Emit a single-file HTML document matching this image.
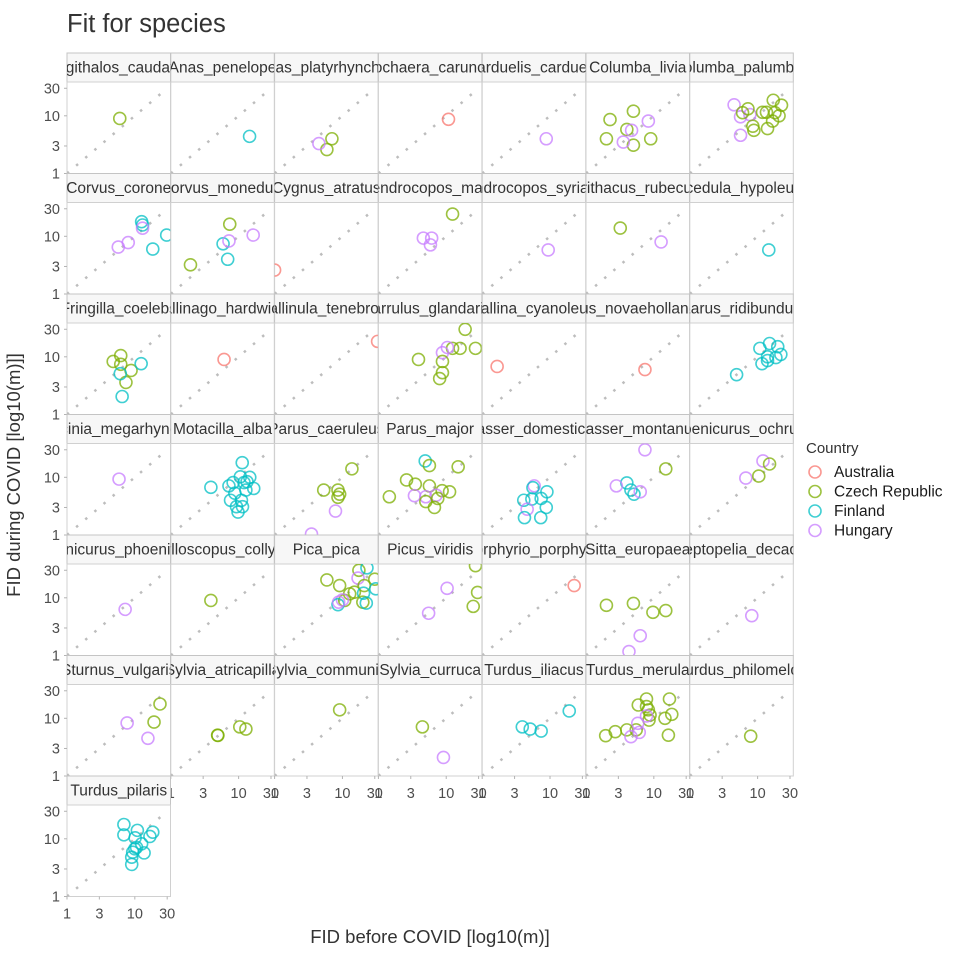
<!DOCTYPE html>
<html><head><meta charset="utf-8"><style>
html,body{margin:0;padding:0;background:#fff;}
svg text{font-family:"Liberation Sans",Arial,sans-serif;}
</style></head><body>
<svg id="chart" width="960" height="960" viewBox="0 0 960 960" xmlns="http://www.w3.org/2000/svg">
<rect width="960" height="960" fill="#fff"/>
<text x="67" y="32" font-size="25.5" fill="#333">Fit for species</text>
<text x="430" y="943" font-size="18.5" fill="#333" text-anchor="middle">FID before COVID [log10(m)]</text>
<text transform="translate(20,475) rotate(-90)" font-size="18.5" fill="#333" text-anchor="middle">FID during COVID [log10(m)]]</text>
<g id="panels"></g>
<g id="legend"></g>
</svg>
<script>
const species = ["Aegithalos_caudatus","Anas_penelope","Anas_platyrhynchos","Anthochaera_carunculata","Carduelis_carduelis","Columba_livia","Columba_palumbus",
"Corvus_corone","Corvus_monedula","Cygnus_atratus","Dendrocopos_major","Dendrocopos_syriacus","Erithacus_rubecula","Ficedula_hypoleuca",
"Fringilla_coelebs","Gallinago_hardwickii","Gallinula_tenebrosa","Garrulus_glandarius","Grallina_cyanoleuca","Larus_novaehollandiae","Larus_ridibundus",
"Luscinia_megarhynchos","Motacilla_alba","Parus_caeruleus","Parus_major","Passer_domesticus","Passer_montanus","Phoenicurus_ochruros",
"Phoenicurus_phoenicurus","Phylloscopus_collybita","Pica_pica","Picus_viridis","Porphyrio_porphyrio","Sitta_europaea","Streptopelia_decaocto",
"Sturnus_vulgaris","Sylvia_atricapilla","Sylvia_communis","Sylvia_curruca","Turdus_iliacus","Turdus_merula","Turdus_philomelos","Turdus_pilaris"];
const countries = ["Australia","Czech Republic","Finland","Hungary"];
const countryCode = {A:0,C:1,F:2,H:3};
const ptCountry = ["C","F","CCH","A","H","CCCCCCHHH","HHHHCCCCCCCCCCCC",
"FFHHHFF","CCFHFH","A","CHHH","H","CH","F",
"CCCCCFFF","A","A","CCCCCHHCCC","A","A","FFFFFFFFF",
"H","FFFFFFFFFFFFFFFF","CCCCCHH","FCCCCCCCCHHHCCC","HFFFFFFHFF","HFHCFFH","HCHC",
"H","C","CCCFCHCCCFFCHFHCF","HHCCC","A","CCCCHH","H",
"CCHH","CCCC","C","CH","FFFF","CCCCCCCCCCCCCCHHHH","C","FFFFFFFFFFFFF"];
const fidBefore = [[6],[14.5],[7,5.9,4.5],[10.8],[8.8],[2.26,5,2,4,5,9,4.7,3.55,8.3],[4.5,5.6,5.6,7.7,7.2,6,8.5,8.8,11.8,13.5,17,22.5,20.7,16.6,14,18],
[12.6,13,13,8,5.7,18.4,29.5],[7.4,1.95,5.9,7.2,6.9,16.4],[1],[12.4,4.6,6.1,5.85],[9.4],[3.2,12.8],[14.6],
[4.8,6.2,6.2,7.4,8.8,6.1,12.4,6.5],[6.1],[33],[3.9,19,16,27,12.4,10.4,8.8,8.8,8.8,8],[1.66],[7.4],[4.9,11.6,10.8,14,14,15,19.8,22,18.6],
[5.85],[11.3,3.9,10.6,14.6,13.3,8.3,7.2,16.7,12.8,8.8,11,7.6,9.3,11.4,9.8,12],[13.8,5.3,8.6,9.1,8.6,7.9,3.5],[4.9,5.65,15,2.6,3.5,1.45,5.65,8.7,11.2,3.4,5,7.1,6.7,5,7.5],[5.85,5.6,9,4.1,5.4,7.4,8.8,4.6,4.2,7.3],[7.4,4,2.8,15,4.6,5.1,6.3],[12,15,6.7,10.4],
[7.2],[3.9],[5.9,9.1,17.5,23,30,17,21,12.8,15,20.5,31,10.8,10,8.6,8.8,20,22.5],[10.3,5.5,27,29,25],[22.7],[2,5,9.7,15,6.3,4.3],[8.2],
[23.5,19.2,7.7,15.6],[4.9,4.95,10.4,12.8],[9.1],[4.45,9.1],[3.9,5.1,7.4,19.2],[1.95,2.7,4,5.9,7.8,7.8,8.3,8.5,8.8,5.5,17,18.4,14.6,16.4,5.8,6.1,4.6,7.8],[7.9],
[6.9,6.9,10.9,18.4,16.7,10.1,12.6,10,13.7,9.3,9,9,10.6]];
const fidDuring = [[9],[4.4],[4,2.6,3.3],[8.7],[4],[8.6,12,4,5.8,3.1,4,5.6,3.5,8.1],[15.5,9.6,4.6,10.5,13.2,11.3,6.6,5.6,11.5,11.5,18.6,15.3,10,8.1,6,11.3],
[17.9,15.7,13.8,7.8,6.5,6,10.5],[16.2,3.2,7.4,8.3,4,10.5],[2.6],[24.3,9.3,9.3,7.1],[5.8],[13.9,8],[5.8],
[8.3,10.5,7.4,3.6,5.8,5.1,7.6,2.05],[9],[18.5],[9,30,14,14,14,14.5,11.8,8.3,5.3,4.2],[6.8],[6],[4.9,7.6,14,10,8.6,17,15,11,9.7],
[9.3],[17.9,6.7,10.2,10,8.4,8.1,7.1,6.4,6,5.3,4,4,3.1,3.1,2.5,8.1],[14,6,6,5.1,4.5,2.6,1.04],[19.2,16,15.2,9,7.6,4.6,7.1,5.85,5.6,4.8,4.6,4.9,3,3.8,4.3],[7.1,6.6,5.6,4,4.2,4.3,3,2.8,2,2],[30,8,7.1,14,6,5.1,5.6],[19.2,17,9.7,10.5],
[6.3],[9],[20.4,16.3,30,33,21,22,16.3,11.7,12.5,12,14.3,9,9.2,7.6,8.4,8.4,8.1],[14.6,5.4,36,12.4,7.1],[16.3],[7.4,8,5.6,6,2.2,1.17],[4.9],
[17.7,8.6,8.3,4.5],[5.1,5.05,7.1,6.5],[14],[7.1,2.1],[7.1,6.5,6,13.4],[5,5.85,6.3,17,21.6,16,14,9.3,11.4,6.3,21.6,11.7,10,5.1,8.2,5.7,4.8,11],[4.9],
[17.7,11.7,14,13,11,10.4,8.2,6.7,5.7,5.85,4.8,3.6,7.1]];
const tickValues = [1,3,10,30];
const tickLabels = ["1","3","10","30"];
const colors = ["#F8766D","#7CAE00","#00BFC4","#C77CFF"];

const NS="http://www.w3.org/2000/svg";
const NCOL=7, X0=67, COLW=103.8, PW=103.5, Y0=53, ROWH=120.5, STRIPH=29, PH=91.5;
const XDEC=1.526, YPX=57.7;
function mk(tag,attrs,parent){const e=document.createElementNS(NS,tag);for(const k in attrs)e.setAttribute(k,attrs[k]);parent.appendChild(e);return e;}
function xs(v,L){return L+Math.log10(v)/XDEC*PW;}
function ys(v,B){return B-Math.log10(v)*YPX;}
const panels=document.getElementById('panels');
const defs=mk('defs',{},panels);
const nRows=Math.ceil(species.length/NCOL);
species.forEach((sp,i)=>{
  const c=i%NCOL, r=Math.floor(i/NCOL);
  const L=X0+c*COLW, T=Y0+r*ROWH, PT=T+STRIPH, B=T+ROWH;
  const g=mk('g',{},panels);
  
  
  const cp=mk('clipPath',{id:'cp'+i},defs);
  mk('rect',{x:L,y:PT,width:PW,height:PH},cp);
  const cs=mk('clipPath',{id:'cs'+i},defs);
  mk('rect',{x:L,y:T,width:PW,height:STRIPH},cs);
  const strip=mk('rect',{x:L,y:T,width:PW,height:STRIPH,fill:'#f7f7f7',stroke:'#c4c4c4','stroke-width':1},g);
  
  
  const st=mk('text',{x:L+PW/2,y:T+19.5,'font-size':15.5,fill:'#333','text-anchor':'middle','clip-path':'url(#cs'+i+')'},g);
  st.textContent=sp;
  
  
  mk('rect',{x:L,y:PT,width:PW,height:PH,fill:'#fff',stroke:'#d0d0d0','stroke-width':1},g);
  const pg=mk('g',{'clip-path':'url(#cp'+i+')'},g);
  const diag=mk('line',{x1:xs(1,L),y1:ys(1,B),x2:xs(30,L),y2:ys(30,B),stroke:'#bdbdbd','stroke-width':2.5,'stroke-dasharray':'2.5 9.5'},pg);
  
  
  const xb=fidBefore[i], yd=fidDuring[i], cc=ptCountry[i];
  for(let k=0;k<xb.length;k++){
    const ci=countryCode[cc[k]];
    const pt=mk('circle',{cx:xs(xb[k],L),cy:ys(yd[k],B),r:6,fill:'none',stroke:colors[ci],'stroke-width':1.6,'stroke-opacity':0.75},pg);
    
    
  }
  if(c===0){
    tickValues.forEach((v,j)=>{
      const y=ys(v,B);
      mk('line',{x1:L-3,y1:y,x2:L,y2:y,stroke:'#b3b3b3','stroke-width':1},g);
      const t=mk('text',{x:L-7,y:y+5,'font-size':14.5,fill:'#4d4d4d','text-anchor':'end'},g);
      t.textContent=tickLabels[j];
      
      
    });
  }
  const bottomRow = (r===nRows-1) || (i+NCOL>=species.length);
  if(bottomRow){
    tickValues.forEach((v,j)=>{
      const x=xs(v,L);
      mk('line',{x1:x,y1:B,x2:x,y2:B+3,stroke:'#b3b3b3','stroke-width':1},g);
      const t=mk('text',{x:x,y:B+22,'font-size':14.5,fill:'#4d4d4d','text-anchor':'middle'},g);
      t.textContent=tickLabels[j];
      
      
    });
  }
});
const lg=document.getElementById('legend');
const lt=mk('text',{x:806,y:453,'font-size':15,fill:'#333'},lg);
lt.textContent='Country';


countries.forEach((cn,j)=>{
  const y=472+j*19.5;
  const e=mk('g',{},lg);
  
  
  mk('circle',{cx:815,cy:y,r:6,fill:'none',stroke:colors[j],'stroke-width':1.6,'stroke-opacity':0.75},e);
  const t=mk('text',{x:834,y:y+5,'font-size':15.5,fill:'#1a1a1a'},e);
  t.textContent=cn;
});
</script>
</body></html>
